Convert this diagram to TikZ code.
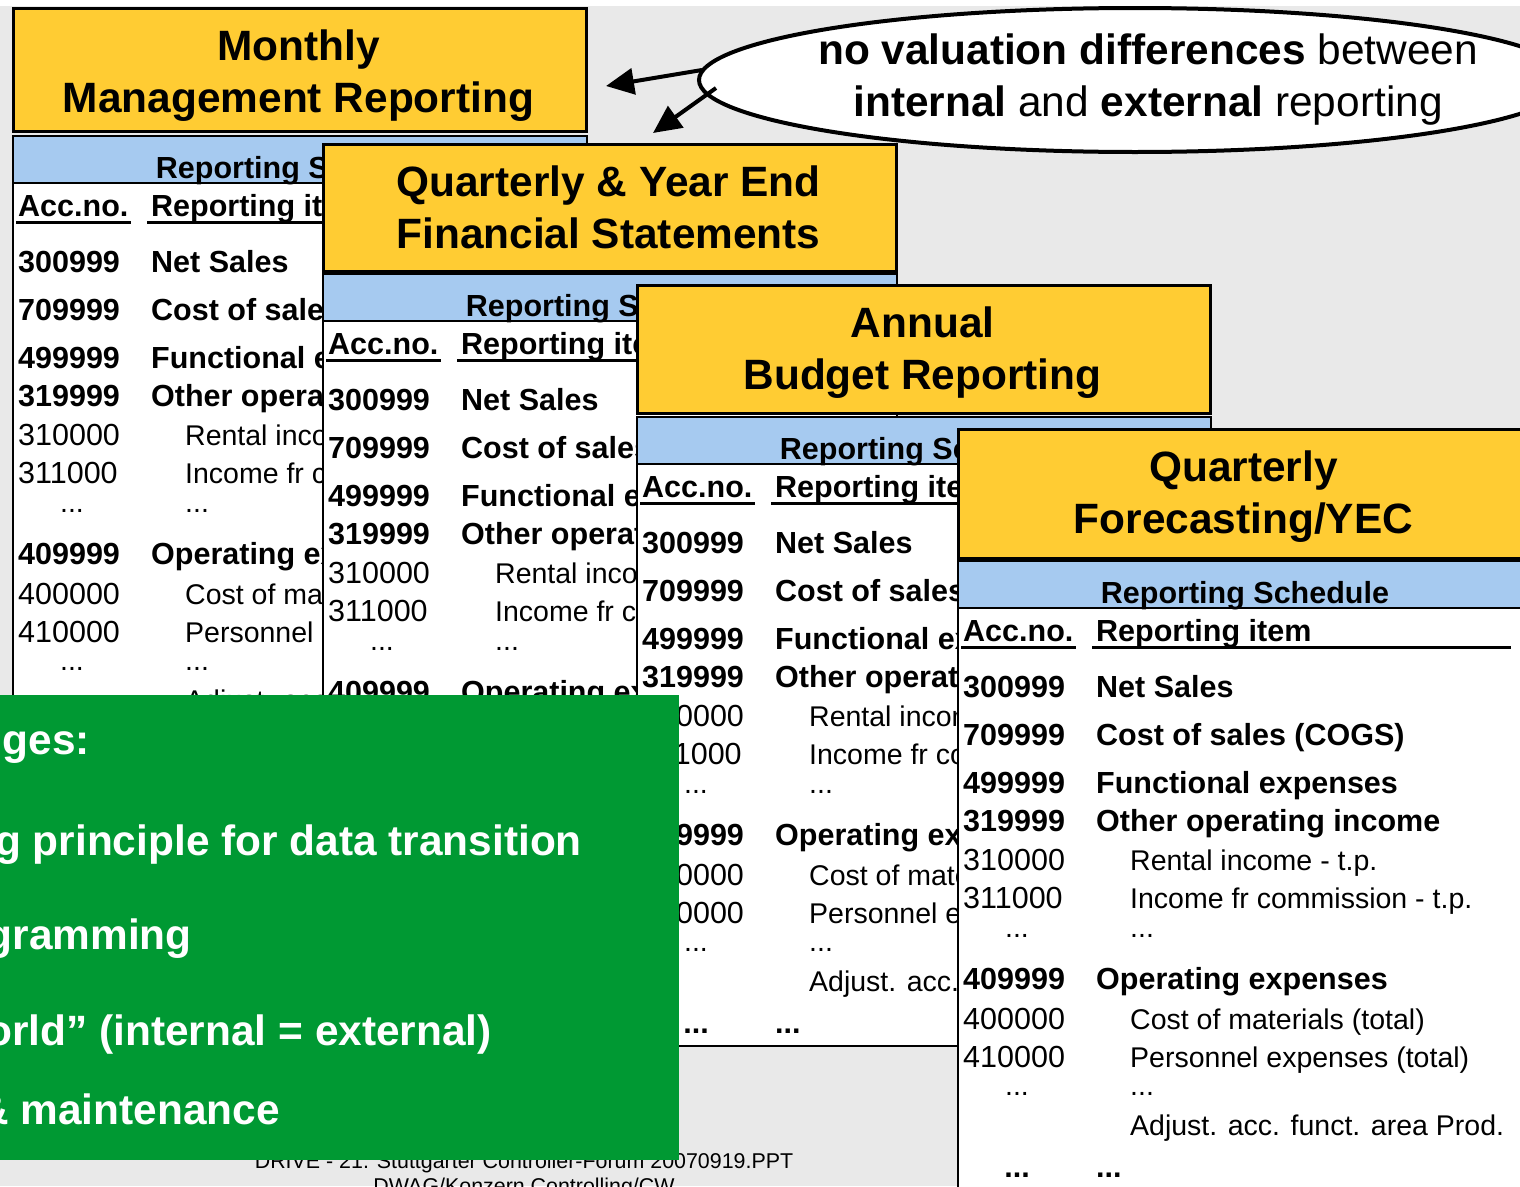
\documentclass[tikz,border=0pt]{standalone}
\usepackage{fontspec}
\setmainfont{Liberation Sans}
\usetikzlibrary{arrows.meta,shapes.geometric}
\definecolor{hdryellow}{HTML}{FFCC33}
\definecolor{bandblue}{HTML}{A6CAF0}
\definecolor{boxgreen}{HTML}{009933}
\definecolor{bggray}{HTML}{E9E9E9}
\tikzset{
  hdrbox/.style={draw=black, line width=3pt, fill=hdryellow},
  hdrtext/.style={font=\fontsize{42.4}{50}\selectfont\bfseries, inner sep=0pt, anchor=base},
  tb/.style={font=\fontsize{30.5}{36}\selectfont\bfseries, inner sep=0pt, anchor=base west},
  tr/.style={font=\fontsize{28.5}{36}\selectfont, inner sep=0pt, anchor=base west},
  trn/.style={font=\fontsize{30.5}{36}\selectfont, inner sep=0pt, anchor=base west},
  tline/.style={line width=2.5pt, black},
  uline/.style={line width=3pt, black},
  gtext/.style={font=\fontsize{42.4}{50}\selectfont\bfseries, text=white, inner sep=0pt, anchor=base east},
  notetext/.style={font=\fontsize{42.4}{50}\selectfont, inner sep=0pt, anchor=base},
  foot/.style={font=\fontsize{21.4}{25}\selectfont, inner sep=0pt, anchor=base},
  arr/.style={line width=4pt, -{Triangle[length=28pt,width=26pt]}}
}
% bold table row
\newcommand\trowb[5]{%
  \node[tb] (#1#2a) at (5,#3) {#4};
  \node[tb] (#1#2b) at (138,#3) {#5};}
% regular indented table row
\newcommand\trowr[5]{%
  \node[trn] (#1#2a) at (5,#3) {#4};
  \node[tr] (#1#2b) at (172,#3) {#5};}
% one reporting panel
\newcommand\rpanel[7]{%
  \node[hdrbox, anchor=north west, minimum width=573pt, minimum height=#4pt, inner sep=0pt] (#1hdr) at (#2,#3) {};
  \node[hdrtext] (#1ta) at ({#2+286.5},{#3+53}) {#6};
  \node[hdrtext] (#1tb) at ({#2+286.5},{#3+105}) {#7};
  \begin{scope}[shift={({#2+1},#5)}]
    \fill[bandblue] (0,0) rectangle (574,47);
    \fill[white] (0,47) rectangle (574,629);
    \begin{scope}
      \clip (0,0) rectangle (574,629);
      \node[tb, anchor=base] (#1band) at (287,42) {Reporting Schedule};
      \node[tb] (#1acc) at (5,80) {Acc.no.};
      \node[tb] (#1item) at (138,80) {Reporting item};
      \draw[uline] (3,86) -- (118,86);
      \draw[uline] (134,86) -- (553,86);
      \trowb{#1}{r1}{136}{300999}{Net Sales}
      \trowb{#1}{r2}{184}{709999}{Cost of sales (COGS)}
      \trowb{#1}{r3}{232}{499999}{Functional expenses}
      \trowb{#1}{r4}{270}{319999}{Other operating income}
      \trowr{#1}{r5}{309}{310000}{Rental income - t.p.}
      \trowr{#1}{r6}{347}{311000}{Income fr commission - t.p.}
      \node[tr, anchor=base] (#1d1a) at (59,376) {...};
      \node[tr] (#1d1b) at (172,376) {...};
      \trowb{#1}{r7}{428}{409999}{Operating expenses}
      \trowr{#1}{r8}{468}{400000}{Cost of materials (total)}
      \trowr{#1}{r9}{506}{410000}{Personnel expenses (total)}
      \node[tr, anchor=base] (#1d2a) at (59,534) {...};
      \node[tr] (#1d2b) at (172,534) {...};
      \node[tr] (#1adj) at (172,574) {Adjust. acc. funct. area Prod.};
      \node[tb, anchor=base] (#1d3a) at (59,616) {...};
      \node[tb] (#1d3b) at (138,616) {...};
    \end{scope}
    \draw[tline] (0,47) -- (574,47);
    \draw[tline] (0,0) rectangle (574,629);
  \end{scope}}

\begin{document}
\begin{tikzpicture}[x=1pt, y=-1pt]
\useasboundingbox (0,0) rectangle (1520,1186);
\clip (0,0) rectangle (1520,1186);
\fill[bggray] (0,0) rectangle (1520,1186);
\fill[white] (0,0) rectangle (1520,6);

\rpanel{pa}{12}{7}{123}{136}{Monthly}{Management Reporting}
\rpanel{pb}{322}{143}{127}{274}{Quarterly \& Year End}{Financial Statements}
\rpanel{pc}{636}{284}{128}{417}{Annual}{Budget Reporting}
\rpanel{pd}{957}{428}{129}{561}{Quarterly}{Forecasting/YEC}

% footer
\node[foot] (ft1) at (524,1168) {DRIVE - 21. Stuttgarter Controller-Forum 20070919.PPT};
\node[foot] (ft2) at (524,1193) {DWAG/Konzern Controlling/CW};

% green advantages box
\node[fill=boxgreen, anchor=north west, minimum width=681pt, minimum height=465pt, inner sep=0pt] (adv) at (-2,695) {};
\node[gtext] (g1) at (90,754) {ges:};
\node[gtext] (g2) at (582,855) {g principle for data transition};
\node[gtext] (g3) at (192,949) {gramming};
\node[gtext] (g4) at (492,1045) {orld” (internal = external)};
\node[gtext] (g5) at (280,1124) {\& maintenance};

% ellipse note
\node[draw=black, line width=4pt, fill=white, ellipse, minimum width=872pt, minimum height=144pt, inner sep=0pt] (note) at (1135,80) {};
\node[notetext] (nv1) at (1148,64) {\textbf{no valuation differences} between};
\node[notetext] (nv2) at (1148,116) {\textbf{internal} and \textbf{external} reporting};

\coordinate (a1s) at (702,70);
\coordinate (a1t) at (606,86);
\coordinate (a2s) at (716,88);
\coordinate (a2t) at (653,133);
\draw[arr] (a1s) -- (a1t);
\draw[arr] (a2s) -- (a2t);
\end{tikzpicture}
\end{document}
